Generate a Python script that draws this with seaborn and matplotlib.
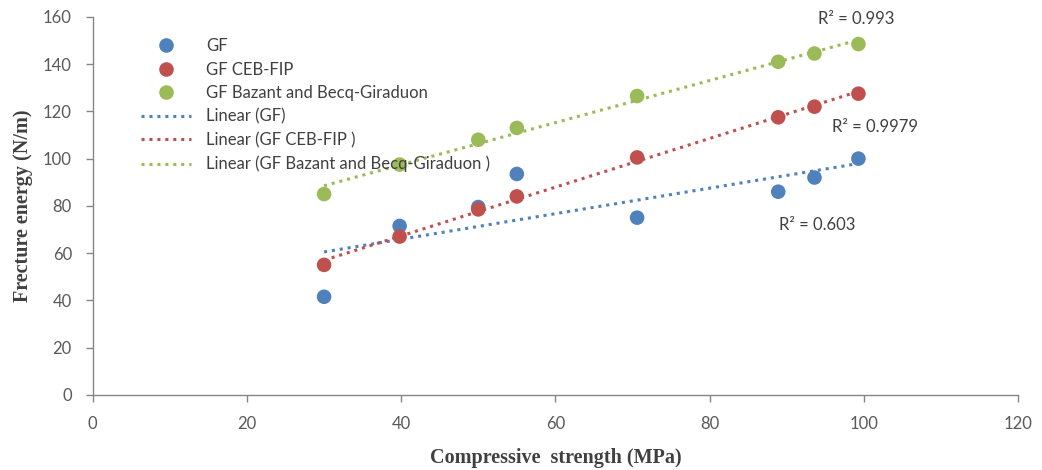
import matplotlib
matplotlib.use("Agg")
import matplotlib.pyplot as plt
import numpy as np
import pandas as pd
import seaborn as sns

# Compressive strength (MPa)
strength = [30, 39.8, 50, 55, 70.6, 88.9, 93.6, 99.3]

# Fracture energy (N/m) for each method
gf = [41.5, 71.5, 79.5, 93.5, 75, 86, 92, 100]
gf_ceb = [55, 67, 78.5, 84, 100.5, 117.5, 122, 127.5]
gf_bazant = [85, 97.5, 108, 113, 126.5, 141, 144.5, 148.5]

series_names = ["GF", "GF CEB-FIP", "GF Bazant and Becq-Giraduon"]
trend_names = ["Linear (GF)", "Linear (GF CEB-FIP )", "Linear (GF Bazant and Becq-Giraduon )"]
r2_labels = ["R² = 0.603", "R² = 0.9979", "R² = 0.993"]
colors = ["#4F81BD", "#C0504D", "#9BBB59"]

df = pd.DataFrame({
    "strength": strength * 3,
    "energy": gf + gf_ceb + gf_bazant,
    "series": np.repeat(series_names, len(strength)),
})

sns.set_style("white")
plt.rcParams["font.family"] = ["Lato", "DejaVu Sans"]

fig = plt.figure(figsize=(10.42, 4.70), dpi=100)
ax = fig.add_axes([0.089, 0.160, 0.888, 0.804])

sns.scatterplot(data=df, x="strength", y="energy", hue="series",
                palette=dict(zip(series_names, colors)), s=110,
                edgecolor="none", ax=ax, zorder=3)

for name, trend, col in zip(series_names, trend_names, colors):
    sub = df[df["series"] == name]
    sns.regplot(data=sub, x="strength", y="energy", scatter=False, ci=None,
                ax=ax, label=trend,
                line_kws=dict(color=col, linestyle=(0, (1, 1.6)), linewidth=2.2))

# R² annotations
ax.text(94, 72, r2_labels[0], fontsize=12, color="#404040", ha="center", va="center")
ax.text(101.5, 113.5, r2_labels[1], fontsize=12, color="#404040", ha="center", va="center")
ax.text(99, 159, r2_labels[2], fontsize=12, color="#404040", ha="center", va="center")

ax.set_xlim(0, 120)
ax.set_ylim(0, 160)
ax.set_xticks(range(0, 121, 20))
ax.set_yticks(range(0, 161, 20))

sns.despine(ax=ax)
for sp in ["left", "bottom"]:
    ax.spines[sp].set_color("#868686")
    ax.spines[sp].set_linewidth(1.0)
ax.tick_params(axis="both", length=5, width=1, color="#868686",
               labelcolor="#595959", labelsize=12, direction="out", bottom=True, left=True)
ax.tick_params(axis="x", pad=10)
ax.tick_params(axis="y", pad=10)

ax.set_xlabel("Compressive  strength (MPa)", fontsize=14.5, fontweight="bold",
              family="Liberation Serif", color="#404040", labelpad=12)
ax.set_ylabel("Frecture energy (N/m)", fontsize=14.5, fontweight="bold",
              family="Liberation Serif", color="#404040", labelpad=7)

handles, labels = ax.get_legend_handles_labels()
leg = ax.legend(handles, labels, loc="upper left", bbox_to_anchor=(0.04, 0.975),
                frameon=False, fontsize=12, handlelength=3.0, labelspacing=0.45,
                handletextpad=0.9, borderaxespad=0.3)
for t in leg.get_texts():
    t.set_color("#404040")

fig.savefig("out.png", dpi=100)
